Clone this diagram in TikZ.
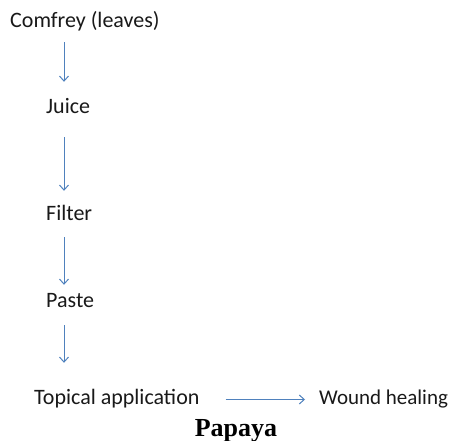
\documentclass[tikz,border=0pt]{standalone}
\usepackage{fontspec}
\setmainfont{Carlito}
\newfontfamily\tnr{Liberation Serif}
\usetikzlibrary{arrows.meta}
\definecolor{arrblue}{HTML}{4F81BD}
\begin{document}
\begin{tikzpicture}[x=1pt,y=-1pt,
  lbl/.style={anchor=base west,inner sep=0pt,text height=14pt,text depth=5pt,
    font=\fontsize{22}{26}\selectfont,text=black!90},
  arr/.style={draw=arrblue,line width=1pt,-{Straight Barb[length=5pt,width=9pt]}}]
\useasboundingbox (0,0) rectangle (453,441);
\coordinate (col) at (64,0);
\node[lbl] (comfrey) at (10,28) {Comfrey (leaves)};
\node[lbl] (juice) at (46,114) {Juice};
\node[lbl] (filter) at (46,221) {Filter};
\node[lbl] (paste) at (46,307.5) {Paste};
\node[lbl] (topical) at (34,404) {Topical application};
\node[lbl,font=\fontsize{21}{25}\selectfont] (wound) at (319,404) {Wound healing};
\node[anchor=base,inner sep=0pt,font=\tnr\bfseries\fontsize{26}{30}\selectfont] (papaya) at (236,436) {Papaya};
\draw[arr,shorten <=9pt,shorten >=18pt] (comfrey.south -| col) -- (juice.north -| col);
\draw[arr,shorten <=18pt,shorten >=16pt] (juice.south -| col) -- (filter.north -| col);
\draw[arr,shorten <=11pt,shorten >=8.5pt] (filter.south -| col) -- (paste.north -| col);
\draw[arr,shorten <=12.5pt,shorten >=27pt] (paste.south -| col) -- (topical.north -| col);
\draw[arr,shorten <=26pt,shorten >=14pt] (topical.east) -- (wound.west);
\end{tikzpicture}
\end{document}
